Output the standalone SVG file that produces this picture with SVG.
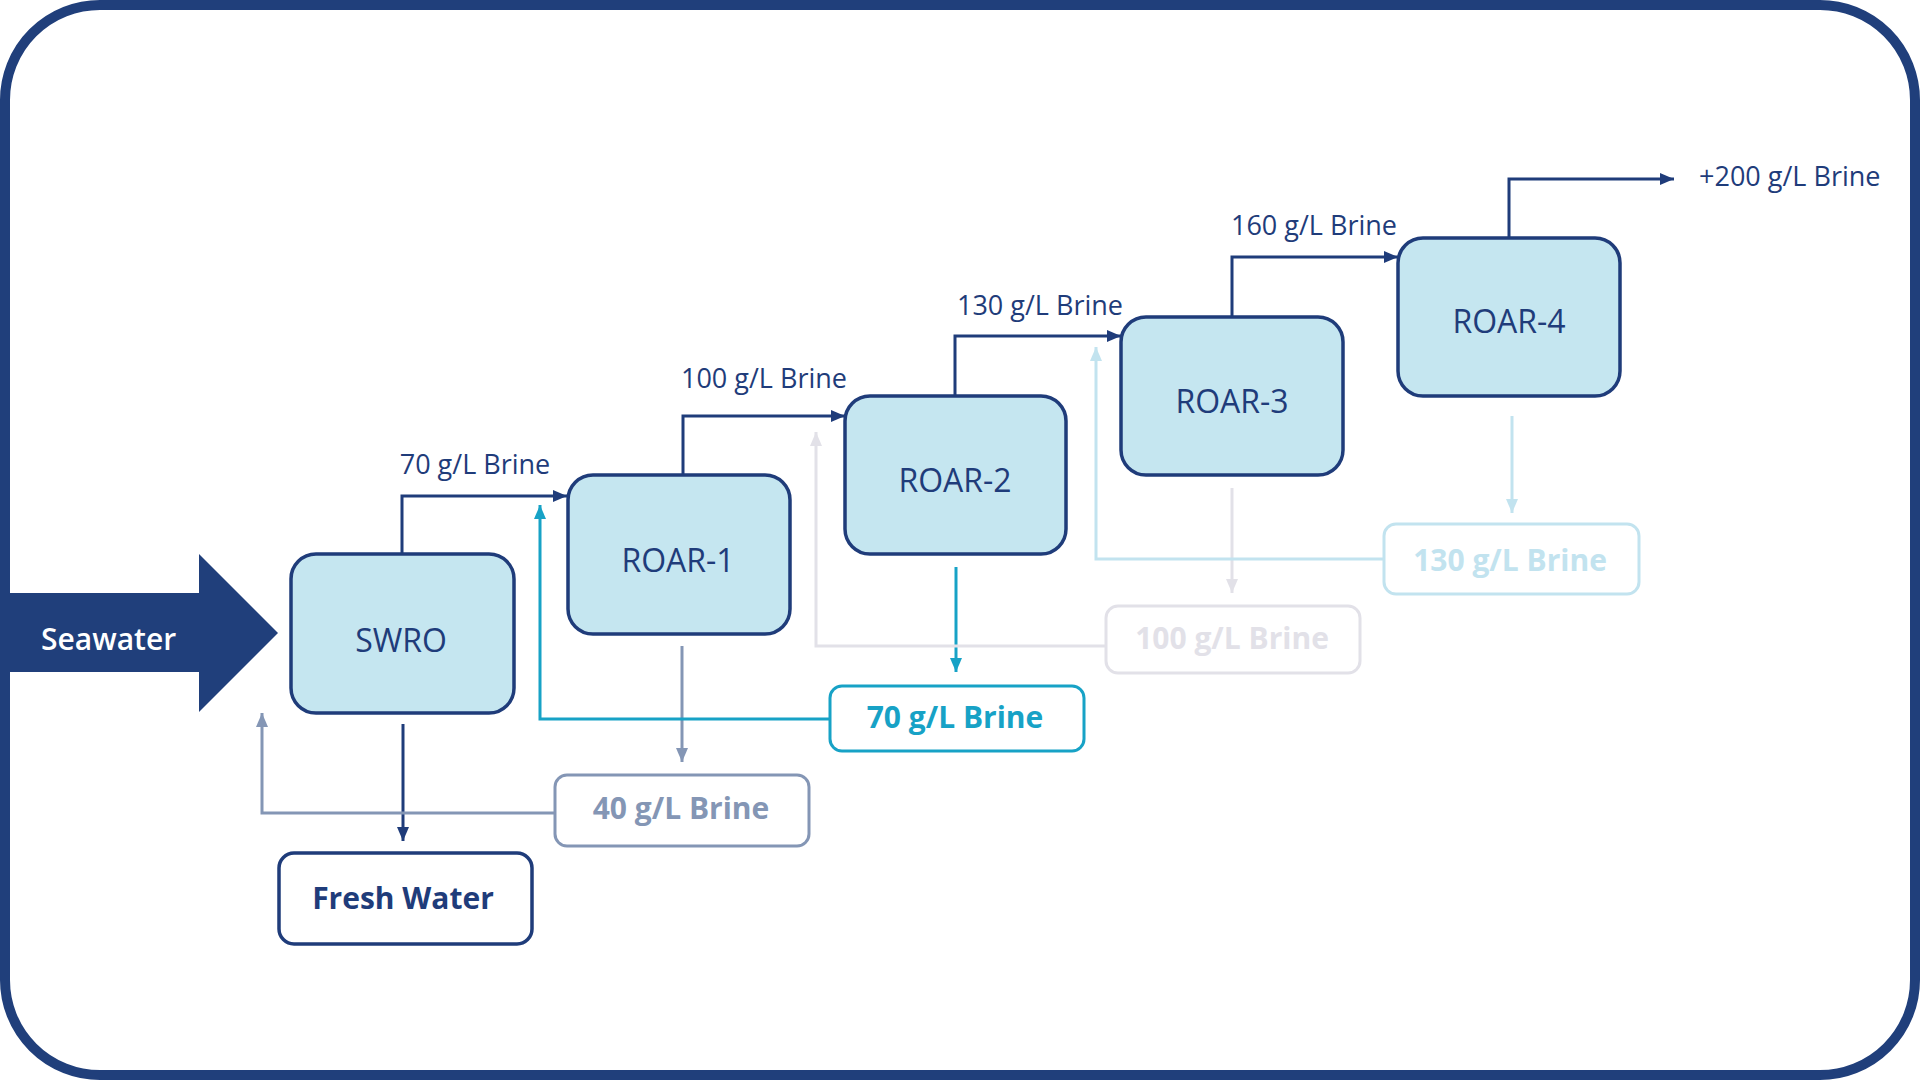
<svg xmlns="http://www.w3.org/2000/svg" width="1920" height="1080" viewBox="0 0 1920 1080">
<style>
.node{fill:#C5E6F0;stroke:#1F3C7A;stroke-width:3.5}
.nt{font-family:"Open Sans","Liberation Sans",sans-serif;font-size:32px;fill:#1F3C7A;text-anchor:middle}
.lbl{font-family:"Open Sans","Liberation Sans",sans-serif;font-size:27px;fill:#1F3C7A}
.bt{font-family:"Open Sans","Liberation Sans",sans-serif;font-size:30px;font-weight:700;text-anchor:middle}
.c{fill:none;stroke-width:3}
</style>
<defs>
<marker id="mNavy" markerUnits="userSpaceOnUse" markerWidth="16" markerHeight="14" refX="14" refY="6" orient="auto"><path d="M0,0 L14,6 L0,12 Z" fill="#1F3C7A"/></marker>
<marker id="mGrey" markerUnits="userSpaceOnUse" markerWidth="16" markerHeight="14" refX="14" refY="6" orient="auto"><path d="M0,0 L14,6 L0,12 Z" fill="#8496B5"/></marker>
<marker id="mTeal" markerUnits="userSpaceOnUse" markerWidth="16" markerHeight="14" refX="14" refY="6" orient="auto"><path d="M0,0 L14,6 L0,12 Z" fill="#17A2C6"/></marker>
<marker id="mLight" markerUnits="userSpaceOnUse" markerWidth="16" markerHeight="14" refX="14" refY="6" orient="auto"><path d="M0,0 L14,6 L0,12 Z" fill="#E2E1E8"/></marker>
<marker id="mLBlue" markerUnits="userSpaceOnUse" markerWidth="16" markerHeight="14" refX="14" refY="6" orient="auto"><path d="M0,0 L14,6 L0,12 Z" fill="#C2E3EF"/></marker>
</defs>
<rect x="0" y="0" width="1920" height="1080" fill="#FFFFFF"/>
<rect x="5" y="5" width="1910" height="1070" rx="95" ry="95" fill="#FFFFFF" stroke="#203F7B" stroke-width="10"/>

<g id="seawater">
<path d="M0,593 H199 V554 L278,633 L199,712 V672 H0 Z" fill="#203F7B"/>
<text x="41" y="650" font-family="'Open Sans','Liberation Sans',sans-serif" font-size="30" font-weight="600" fill="#FFFFFF">Seawater</text>
</g>

<g id="connectors">
<path class="c" stroke="#1F3C7A" d="M402,554 V496 H567" marker-end="url(#mNavy)"/>
<path class="c" stroke="#1F3C7A" d="M683,475 V416 H845" marker-end="url(#mNavy)"/>
<path class="c" stroke="#1F3C7A" d="M955,396 V336 H1121" marker-end="url(#mNavy)"/>
<path class="c" stroke="#1F3C7A" d="M1232,317 V257 H1398" marker-end="url(#mNavy)"/>
<path class="c" stroke="#1F3C7A" d="M1509,238 V179 H1674" marker-end="url(#mNavy)"/>
<path class="c" stroke="#1F3C7A" d="M403,724 V841" marker-end="url(#mNavy)"/>
<path class="c" stroke="#8496B5" d="M682,646 V762" marker-end="url(#mGrey)"/>
<path class="c" stroke="#8496B5" d="M555,813 H262 V713" marker-end="url(#mGrey)"/>
<path class="c" stroke="#17A2C6" d="M956,567 V672" marker-end="url(#mTeal)"/>
<path class="c" stroke="#17A2C6" d="M830,719 H540 V505" marker-end="url(#mTeal)"/>
<path class="c" stroke="#E2E1E8" d="M1232,488 V593" marker-end="url(#mLight)"/>
<path class="c" stroke="#E2E1E8" d="M1106,646 H816 V432" marker-end="url(#mLight)"/>
<path class="c" stroke="#C2E3EF" d="M1512,416 V513" marker-end="url(#mLBlue)"/>
<path class="c" stroke="#C2E3EF" d="M1384,559 H1096 V347" marker-end="url(#mLBlue)"/>
<text class="lbl" x="475" y="474" text-anchor="middle">70 g/L Brine</text>
<text class="lbl" x="764" y="388" text-anchor="middle">100 g/L Brine</text>
<text class="lbl" x="1040" y="315" text-anchor="middle">130 g/L Brine</text>
<text class="lbl" x="1314" y="235" text-anchor="middle">160 g/L Brine</text>
<text class="lbl" x="1699" y="186">+200 g/L Brine</text>
</g>

<g id="swro"><rect class="node" x="291" y="554" width="223" height="159" rx="25"/><text class="nt" x="401" y="652">SWRO</text></g>
<g id="roar1"><rect class="node" x="568" y="475" width="222" height="159" rx="25"/><text class="nt" x="678" y="572">ROAR-1</text></g>
<g id="roar2"><rect class="node" x="845" y="396" width="221" height="158" rx="25"/><text class="nt" x="955" y="492">ROAR-2</text></g>
<g id="roar3"><rect class="node" x="1121" y="317" width="222" height="158" rx="25"/><text class="nt" x="1232" y="413">ROAR-3</text></g>
<g id="roar4"><rect class="node" x="1398" y="238" width="222" height="158" rx="25"/><text class="nt" x="1509" y="333">ROAR-4</text></g>

<g id="freshwater"><rect x="279" y="853" width="253" height="91" rx="15" fill="#FFFFFF" stroke="#1F3C7A" stroke-width="3.5"/><text class="bt" x="403" y="909" fill="#1F3C7A">Fresh Water</text></g>
<g id="brine40"><rect x="555" y="775" width="254" height="71" rx="12" fill="#FFFFFF" stroke="#8496B5" stroke-width="3"/><text class="bt" x="681" y="819" fill="#8496B5">40 g/L Brine</text></g>
<g id="brine70"><rect x="830" y="686" width="254" height="65" rx="12" fill="#FFFFFF" stroke="#17A2C6" stroke-width="3"/><text class="bt" x="955" y="728" fill="#17A2C6">70 g/L Brine</text></g>
<g id="brine100"><rect x="1106" y="606" width="254" height="67" rx="12" fill="#FFFFFF" stroke="#E2E1E8" stroke-width="3"/><text class="bt" x="1232" y="649" fill="#E2E1E8">100 g/L Brine</text></g>
<g id="brine130"><rect x="1384" y="524" width="255" height="70" rx="12" fill="#FFFFFF" stroke="#C2E3EF" stroke-width="3"/><text class="bt" x="1510" y="571" fill="#C2E3EF">130 g/L Brine</text></g>
</svg>
